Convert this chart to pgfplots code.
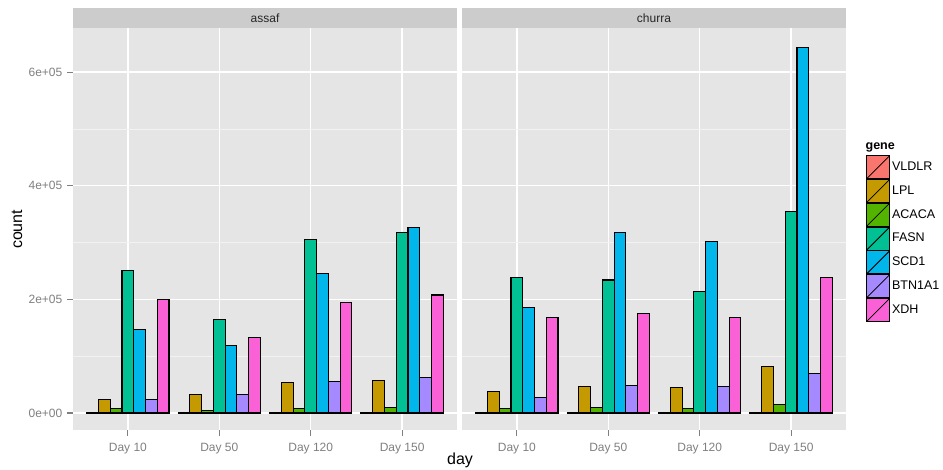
\documentclass[border=0pt]{standalone}
\usepackage{fontspec}
\setmainfont{Liberation Sans}
\usepackage{pgfplots}
\usepackage{pgfplotstable}
\pgfplotsset{compat=1.18}
\definecolor{panelbg}{HTML}{E5E5E5}
\definecolor{stripbg}{HTML}{CCCCCC}
\definecolor{minorgrid}{HTML}{F2F2F2}
\definecolor{tickgrey}{HTML}{7F7F7F}
\definecolor{gA}{HTML}{F8766D}
\definecolor{gB}{HTML}{C49A00}
\definecolor{gC}{HTML}{53B400}
\definecolor{gD}{HTML}{00C094}
\definecolor{gE}{HTML}{00B6EB}
\definecolor{gF}{HTML}{A58AFF}
\definecolor{gG}{HTML}{FB61D7}

\pgfplotstableread{
x VLDLR LPL ACACA FASN SCD1 BTN1A1 XDH
1 1500 23700 8300 251000 147000 23700 200000
2 1500 32500 4700 164500 119000 32500 132500
3 1500 54000 7700 306000 245600 55600 194000
4 1500 58000 9500 318000 326000 62700 207700
}\assaf
\pgfplotstableread{
x VLDLR LPL ACACA FASN SCD1 BTN1A1 XDH
1 1500 37900 8300 238500 185000 27200 167500
2 1500 47300 9500 234000 318000 49000 175700
3 1500 45000 8300 214000 301000 46700 168000
4 1500 81700 14200 354000 644000 69800 238500
}\churra

\pgfplotsset{
  facet/.style={
    scale only axis, width=288pt, height=301.5pt,
    anchor=south west,
    xmin=0.4, xmax=4.6, ymin=-29900, ymax=677500,
    xtick={1,2,3,4}, xticklabels={Day 10,Day 50,Day 120,Day 150},
    ytick={0,200000,400000,600000},
    minor ytick={100000,300000,500000},
    scaled y ticks=false,
    grid=both,
    major grid style={white, line width=1pt},
    minor grid style={minorgrid, line width=0.5pt},
    axis background/.style={fill=panelbg},
    axis line style={draw=none},
    tick pos=left, tick align=outside,
    major tick length=4.5pt, minor tick length=0pt,
    tick style={tickgrey, line width=0.8pt},
    /pgf/number format/assume math mode=true,
    ticklabel style={font=\fontsize{9}{10}\selectfont, text=tickgrey},
    xticklabel style={yshift=-1.5pt},
    legend image code/.code={
      \draw[##1, draw=black, line width=0.6pt] (0pt,-8.625pt) rectangle (17.25pt,8.625pt);
      \draw[black, line width=0.6pt] (0pt,-8.625pt) -- (17.25pt,8.625pt);
    },
  },
  gbar/.style={ybar, bar width=0.128571, draw=black, line width=0.8pt, mark=none},
}

\begin{document}
\begin{tikzpicture}
\path[use as bounding box] (0pt,0pt) rectangle (707.25pt,-352.5pt);

\begin{axis}[facet, name=L, at={(54.75pt,-322.5pt)},
  yticklabels={0e+00,2e+05,4e+05,6e+05}]
\addplot[gbar, fill=gA, bar shift=-0.385714] table[x=x,y=VLDLR]{\assaf};
\addplot[gbar, fill=gB, bar shift=-0.257143] table[x=x,y=LPL]{\assaf};
\addplot[gbar, fill=gC, bar shift=-0.128571] table[x=x,y=ACACA]{\assaf};
\addplot[gbar, fill=gD, bar shift=0] table[x=x,y=FASN]{\assaf};
\addplot[gbar, fill=gE, bar shift=0.128571] table[x=x,y=SCD1]{\assaf};
\addplot[gbar, fill=gF, bar shift=0.257143] table[x=x,y=BTN1A1]{\assaf};
\addplot[gbar, fill=gG, bar shift=0.385714] table[x=x,y=XDH]{\assaf};
\end{axis}

\begin{axis}[facet, name=R, at={(346.5pt,-322.5pt)},
  yticklabels={}, ytick style={draw=none},
  legend style={at={(1.052,0.684)}, anchor=north west, draw=none, fill=none,
    font=\fontsize{9.4}{10}\selectfont, row sep=0pt, inner sep=0pt,
    nodes={inner sep=1.5pt}},
  legend cell align=left]
\addplot[gbar, fill=gA, bar shift=-0.385714] table[x=x,y=VLDLR]{\churra};
\addplot[gbar, fill=gB, bar shift=-0.257143] table[x=x,y=LPL]{\churra};
\addplot[gbar, fill=gC, bar shift=-0.128571] table[x=x,y=ACACA]{\churra};
\addplot[gbar, fill=gD, bar shift=0] table[x=x,y=FASN]{\churra};
\addplot[gbar, fill=gE, bar shift=0.128571] table[x=x,y=SCD1]{\churra};
\addplot[gbar, fill=gF, bar shift=0.257143] table[x=x,y=BTN1A1]{\churra};
\addplot[gbar, fill=gG, bar shift=0.385714] table[x=x,y=XDH]{\churra};
\legend{VLDLR,LPL,ACACA,FASN,SCD1,BTN1A1,XDH}
\end{axis}

% facet strips
\fill[stripbg] (L.north west) rectangle ([yshift=15pt]L.north east);
\fill[stripbg] (R.north west) rectangle ([yshift=15pt]R.north east);
\node[font=\fontsize{9}{10}\selectfont, text=black!85] at ([yshift=7.5pt]L.north) {assaf};
\node[font=\fontsize{9}{10}\selectfont, text=black!85] at ([yshift=7.5pt]R.north) {churra};

% axis titles
\node[rotate=90, font=\fontsize{12}{13}\selectfont] at (12.75pt,-172pt) {count};
\node[font=\fontsize{12}{13}\selectfont] at (345pt,-345.5pt) {day};
\node[anchor=south west, font=\bfseries\fontsize{9.4}{10}\selectfont, inner sep=0pt] at (649pt,-114pt) {gene};
\end{tikzpicture}
\end{document}
